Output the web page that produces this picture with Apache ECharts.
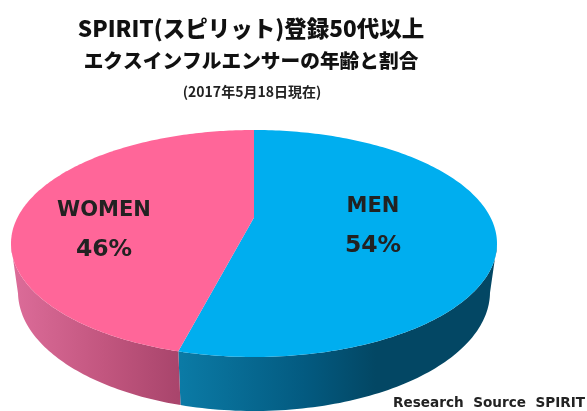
<!DOCTYPE html>
<html>
<head>
<meta charset="utf-8">
<style>
html, body { margin: 0; padding: 0; background: #fff; }
#chart { width: 587px; height: 411px; }
</style>
<script src="https://cdn.jsdelivr.net/npm/echarts@6/dist/echarts.min.js"></script>
</head>
<body>
<div id="chart"></div>
<script>
var categories = ['MEN', 'WOMEN'];
var shares = [54, 46];
var topColors = ['#00aeef', '#ff6699'];
var wallStops = [
    [[0, '#0b7ba6'], [0.4, '#035a80'], [0.62, '#034764'], [1, '#034764']],
    [[0, '#a9456c'], [0.45, '#c2567f'], [1, '#dc6c99']]
];
var wallRange = [[178, 497], [178, 13]];

var titleLines = ['SPIRIT(スピリット)登録50代以上', 'エクスインフルエンサーの年齢と割合', '(2017年5月18日現在)'];
var sourceText = 'Research  Source  SPIRIT';

// 上面と底面の楕円
var topFace = { cx: 254, cy: 243.5, rx: 243, ry: 113.5 };
var bottomFace = { cx: 254, cy: 292, rx: 236, ry: 119 };
var tilt = -0.23; // 遠近で中心が奥へずれる量

function rimPoint(deg) {
    var rad = deg * Math.PI / 180;
    var x = Math.sin(rad), y = -Math.cos(rad);
    var d = 1 + tilt * y;
    return [x * Math.sqrt(1 - tilt * tilt) / d, (y + tilt) / d];
}

function onFace(face, p) {
    return [face.cx + face.rx * p[0], face.cy + face.ry * p[1]];
}

function renderSlice(params, api) {
    var i = params.dataIndex;
    var total = shares.reduce(function (a, b) { return a + b; }, 0);
    var before = 0;
    for (var k = 0; k < i; k++) before += shares[k];
    var start = before / total * 360;
    var end = (before + api.value(1)) / total * 360;

    var top = [[topFace.cx, topFace.cy + topFace.ry * tilt]];
    var wallTop = [], wallBottom = [];
    for (var a = start; a <= end + 0.001; a += (end - start) / 180) {
        var p = rimPoint(a);
        top.push(onFace(topFace, p));
        if (p[1] >= 0) {
            wallTop.push(onFace(topFace, p));
            wallBottom.unshift(onFace(bottomFace, p));
        }
    }
    return {
        type: 'group',
        children: [{
            type: 'polygon',
            shape: { points: wallTop.concat(wallBottom) },
            style: {
                fill: new echarts.graphic.LinearGradient(wallRange[i][0], 0, wallRange[i][1], 0,
                    wallStops[i].map(function (s) { return { offset: s[0], color: s[1] }; }), true)
            }
        }, {
            type: 'polygon',
            z2: 2,
            shape: { points: top },
            style: { fill: topColors[i] }
        }]
    };
}

var myChart = echarts.init(document.getElementById('chart'));
myChart.setOption({
    animation: false,
    backgroundColor: '#fff',
    series: [{
        type: 'custom',
        coordinateSystem: 'none',
        renderItem: renderSlice,
        data: categories.map(function (c, i) { return [c, shares[i]]; })
    }],
    graphic: [
        { type: 'text', x: 251, y: 28, z: 10, style: { text: titleLines[0], font: '900 22.5px "Noto Sans CJK JP"', fill: '#111', align: 'center', verticalAlign: 'middle' } },
        { type: 'text', x: 251, y: 61, z: 10, style: { text: titleLines[1], font: '900 19.7px "Noto Sans CJK JP"', fill: '#111', align: 'center', verticalAlign: 'middle' } },
        { type: 'text', x: 252, y: 92, z: 10, style: { text: titleLines[2], font: 'bold 14px "Noto Sans CJK JP"', fill: '#222', align: 'center', verticalAlign: 'middle' } },
        { type: 'text', x: 373, y: 207, z: 10, style: { text: categories[0], font: 'bold 21px "DejaVu Sans"', fill: '#222', align: 'center', verticalAlign: 'middle' } },
        { type: 'text', x: 373, y: 246, z: 10, style: { text: shares[0] + '%', font: 'bold 23.5px "DejaVu Sans"', fill: '#222', align: 'center', verticalAlign: 'middle' } },
        { type: 'text', x: 104, y: 211, z: 10, style: { text: categories[1], font: 'bold 21px "DejaVu Sans"', fill: '#222', align: 'center', verticalAlign: 'middle' } },
        { type: 'text', x: 104, y: 250, z: 10, style: { text: shares[1] + '%', font: 'bold 23.5px "DejaVu Sans"', fill: '#222', align: 'center', verticalAlign: 'middle' } },
        { type: 'text', x: 585, y: 403, z: 10, style: { text: sourceText, font: 'bold 13.6px "DejaVu Sans"', fill: '#222', align: 'right', verticalAlign: 'middle' } }
    ]
});
</script>
</body>
</html>
